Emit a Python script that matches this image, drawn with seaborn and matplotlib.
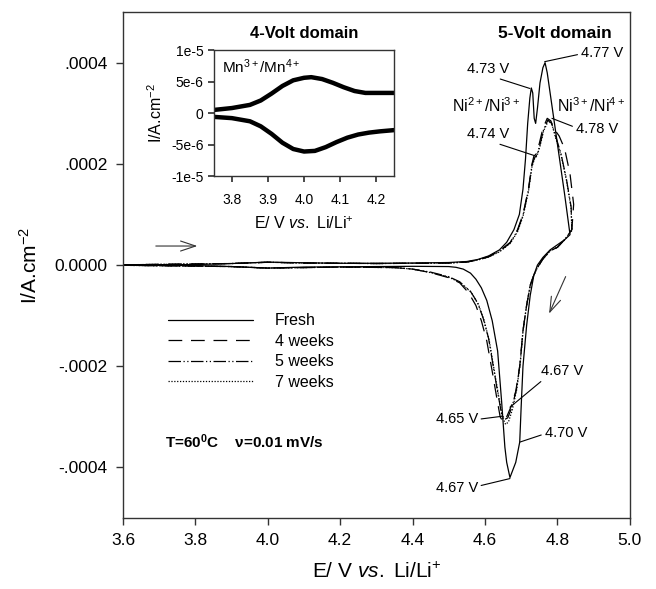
import matplotlib
matplotlib.use("Agg")
import matplotlib.pyplot as plt
import seaborn as sns
import pandas as pd

# ---------------- data ----------------
fresh_E = [3.60, 3.80, 3.90, 4.00, 4.10, 4.20, 4.30, 4.40, 4.50, 4.55, 4.58, 4.61, 4.64, 4.66,
           4.68, 4.695, 4.705, 4.712, 4.718, 4.724, 4.728, 4.732, 4.736, 4.740, 4.745, 4.752,
           4.760, 4.766, 4.772, 4.80, 4.82, 4.835,
           4.82, 4.80, 4.78, 4.76, 4.745, 4.735, 4.725, 4.715, 4.705, 4.700, 4.696, 4.685,
           4.669, 4.660, 4.655, 4.646, 4.635, 4.620, 4.605, 4.59, 4.575, 4.56, 4.54, 4.52,
           4.50, 4.40, 4.30, 4.20, 4.10, 4.00, 3.90, 3.80, 3.60]
fresh_I = [0.5e-6, 1e-6, 3e-6, 5.8e-6, 4.5e-6, 3.5e-6, 3.5e-6, 4e-6, 5e-6, 7e-6, 1.1e-5, 1.8e-5,
           3.0e-5, 4.5e-5, 7.0e-5, 1.0e-4, 1.5e-4, 2.1e-4, 2.8e-4, 3.3e-4, 3.5e-4, 3.4e-4,
           2.9e-4, 2.8e-4, 3.1e-4, 3.6e-4, 3.9e-4, 4.0e-4, 3.8e-4, 2.4e-4, 1.4e-4, 6e-5,
           5e-5, 4e-5, 3e-5, 1.5e-5, 0.0, -2e-5, -6e-5, -1.2e-4, -2.0e-4, -2.8e-4, -3.5e-4,
           -3.9e-4, -4.2e-4, -3.9e-4, -3.6e-4, -2.7e-4, -1.7e-4, -1.1e-4, -7e-5, -4.5e-5,
           -2.8e-5, -1.6e-5, -8e-6, -4.5e-6,
           -3e-6, -2.5e-6, -3e-6, -3.5e-6, -4e-6, -6e-6, -3e-6, -1e-6, -0.5e-6]

w4_E = [3.60, 3.90, 4.00, 4.10, 4.30, 4.50, 4.55, 4.58, 4.61, 4.64, 4.67, 4.69, 4.705, 4.72,
        4.73, 4.735, 4.742, 4.75, 4.76, 4.772, 4.782, 4.79, 4.805, 4.82, 4.835, 4.845, 4.84,
        4.82, 4.80, 4.78, 4.76, 4.745, 4.735, 4.725, 4.715, 4.705, 4.696, 4.685, 4.672,
        4.660, 4.650, 4.642, 4.632, 4.620, 4.605, 4.59, 4.575, 4.555, 4.53, 4.50, 4.45,
        4.40, 4.35, 4.20, 4.00, 3.90, 3.60]
w4_I = [0.5e-6, 3e-6, 5.5e-6, 4e-6, 3e-6, 4e-6, 6e-6, 1.0e-5, 1.7e-5, 2.8e-5, 4.5e-5, 7e-5,
        1.0e-4, 1.5e-4, 2.0e-4, 2.15e-4, 2.2e-4, 2.4e-4, 2.7e-4, 2.9e-4, 2.85e-4, 2.7e-4,
        2.55e-4, 2.3e-4, 1.8e-4, 1.2e-4, 7e-5,
        5e-5, 3.5e-5, 2.8e-5, 1.2e-5, -5e-6, -2e-5, -4e-5, -8e-5, -1.3e-4, -2.0e-4,
        -2.5e-4, -2.8e-4, -3.0e-4, -3.1e-4, -3.0e-4, -2.6e-4, -2.1e-4, -1.5e-4, -1.1e-4,
        -8e-5, -5.5e-5, -3.5e-5, -2.5e-5, -1.5e-5, -8e-6, -5e-6, -4e-6, -6e-6, -3e-6, -0.5e-6]

w5_E = [3.60, 3.90, 4.00, 4.10, 4.30, 4.50, 4.55, 4.58, 4.61, 4.64, 4.67, 4.69, 4.705, 4.72,
        4.73, 4.737, 4.744, 4.752, 4.762, 4.774, 4.784, 4.795, 4.81, 4.825, 4.838, 4.84,
        4.82, 4.80, 4.78, 4.76, 4.745, 4.735, 4.725, 4.715, 4.705, 4.697, 4.687, 4.675,
        4.663, 4.655, 4.646, 4.636, 4.624, 4.61, 4.595, 4.58, 4.56, 4.53, 4.50, 4.45,
        4.40, 4.35, 4.20, 4.00, 3.90, 3.60]
w5_I = [0.5e-6, 3e-6, 5.5e-6, 4e-6, 3e-6, 4e-6, 6e-6, 1.0e-5, 1.6e-5, 2.7e-5, 4.4e-5, 6.8e-5,
        9.8e-5, 1.48e-4, 1.98e-4, 2.12e-4, 2.18e-4, 2.38e-4, 2.68e-4, 2.87e-4, 2.8e-4,
        2.55e-4, 2.2e-4, 1.7e-4, 1.15e-4, 7e-5,
        5e-5, 3.5e-5, 2.8e-5, 1.2e-5, -5e-6, -2e-5, -4e-5, -8e-5, -1.3e-4, -1.95e-4,
        -2.45e-4, -2.8e-4, -3.02e-4, -3.05e-4, -2.95e-4, -2.55e-4, -2.05e-4, -1.45e-4,
        -1.05e-4, -7.5e-5, -5.2e-5, -3.3e-5, -2.3e-5, -1.4e-5, -8e-6, -5e-6, -4e-6,
        -6e-6, -3e-6, -0.5e-6]

w7_E = [3.60, 3.90, 4.00, 4.10, 4.30, 4.50, 4.55, 4.58, 4.61, 4.64, 4.67, 4.69, 4.705, 4.72,
        4.73, 4.737, 4.744, 4.752, 4.762, 4.775, 4.785, 4.795, 4.81, 4.825, 4.838, 4.84,
        4.82, 4.80, 4.78, 4.76, 4.745, 4.735, 4.725, 4.715, 4.705, 4.698, 4.688, 4.676,
        4.665, 4.657, 4.648, 4.638, 4.626, 4.612, 4.597, 4.582, 4.562, 4.53, 4.50, 4.45,
        4.40, 4.35, 4.20, 4.00, 3.90, 3.60]
w7_I = [0.5e-6, 3e-6, 5.5e-6, 4e-6, 3e-6, 4e-6, 6e-6, 1.0e-5, 1.6e-5, 2.6e-5, 4.3e-5, 6.6e-5,
        9.6e-5, 1.45e-4, 1.95e-4, 2.1e-4, 2.16e-4, 2.35e-4, 2.65e-4, 2.85e-4, 2.78e-4,
        2.52e-4, 2.18e-4, 1.68e-4, 1.12e-4, 6.8e-5,
        5e-5, 3.5e-5, 2.8e-5, 1.2e-5, -5e-6, -2e-5, -4e-5, -8e-5, -1.3e-4, -1.9e-4,
        -2.45e-4, -2.85e-4, -3.1e-4, -3.15e-4, -3.0e-4, -2.6e-4, -2.1e-4, -1.5e-4,
        -1.08e-4, -7.8e-5, -5.4e-5, -3.4e-5, -2.4e-5, -1.5e-5, -8e-6, -5e-6, -4e-6,
        -6e-6, -3e-6, -0.5e-6]

series_names = ["Fresh", "4 weeks", "5 weeks", "7 weeks"]

inset_ox_E = [3.75, 3.80, 3.85, 3.88, 3.91, 3.94, 3.97, 4.00, 4.02, 4.05, 4.08, 4.11, 4.14, 4.17, 4.20, 4.25]
inset_ox_I = [0.5e-6, 0.8e-6, 1.3e-6, 2.0e-6, 3.1e-6, 4.3e-6, 5.2e-6, 5.6e-6, 5.7e-6, 5.4e-6, 4.8e-6, 4.1e-6, 3.5e-6, 3.2e-6, 3.2e-6, 3.2e-6]
inset_red_E = [3.75, 3.80, 3.85, 3.88, 3.91, 3.94, 3.97, 4.00, 4.03, 4.06, 4.09, 4.12, 4.15, 4.18, 4.21, 4.25]
inset_red_I = [-0.6e-6, -0.8e-6, -1.3e-6, -2.1e-6, -3.3e-6, -4.7e-6, -5.7e-6, -6.1e-6, -6.0e-6, -5.4e-6, -4.6e-6, -3.9e-6, -3.4e-6, -3.1e-6, -2.9e-6, -2.7e-6]

main_xticks = [3.6, 3.8, 4.0, 4.2, 4.4, 4.6, 4.8, 5.0]
main_xticklabels = ["3.6", "3.8", "4.0", "4.2", "4.4", "4.6", "4.8", "5.0"]
main_yticks = [0.0004, 0.0002, 0.0, -0.0002, -0.0004]
main_yticklabels = [".0004", ".0002", "0.0000", "-.0002", "-.0004"]
inset_xticks = [3.8, 3.9, 4.0, 4.1, 4.2]
inset_xticklabels = ["3.8", "3.9", "4.0", "4.1", "4.2"]
inset_yticks = [1e-5, 5e-6, 0.0, -5e-6, -1e-5]
inset_yticklabels = ["1e-5", "5e-6", "0", "-5e-6", "-1e-5"]

# peak annotations: text, text position, target point
annotations = [
    ("4.73 V", (4.608, 0.000388), (4.724, 0.000349), "center", (0.55, 0.0)),
    ("4.77 V", (4.923, 0.000420), (4.765, 0.000402), "center", (0.0, 0.4)),
    ("4.74 V", (4.608, 0.000259), (4.738, 0.000216), "center", (0.55, 0.0)),
    ("4.78 V", (4.909, 0.000269), (4.785, 0.000290), "center", (0.0, 0.6)),
    ("4.67 V", (4.812, -0.000210), (4.669, -0.000281), "center", (0.1, 0.0)),
    ("4.65 V", (4.522, -0.000305), (4.646, -0.000299), "center", (1.0, 0.5)),
    ("4.70 V", (4.823, -0.000331), (4.696, -0.000350), "center", (0.0, 0.4)),
    ("4.67 V", (4.522, -0.000440), (4.669, -0.000422), "center", (1.0, 0.6)),
]

# ---------------- style ----------------
sns.set_theme(style="ticks")
plt.rcParams["font.family"] = ["Liberation Sans", "DejaVu Sans"]
plt.rcParams["mathtext.fontset"] = "custom"
plt.rcParams["mathtext.rm"] = "Liberation Sans"
plt.rcParams["mathtext.it"] = "Liberation Sans:italic"
plt.rcParams["mathtext.bf"] = "Liberation Sans:bold"
plt.rcParams["axes.edgecolor"] = "#333333"
plt.rcParams["axes.linewidth"] = 1.0
plt.rcParams["text.color"] = "black"
plt.rcParams["axes.labelcolor"] = "black"
plt.rcParams["xtick.labelcolor"] = "black"
plt.rcParams["ytick.labelcolor"] = "black"

fig = plt.figure(figsize=(6.56, 5.89), dpi=100)
ax = fig.add_axes([0.1875, 0.1205, 0.7725, 0.859])

styles = {
    "Fresh": "-",
    "4 weeks": (0, (11, 7)),
    "5 weeks": (0, (10, 2, 1, 2, 1, 2)),
    "7 weeks": (0, (1, 1.3)),
}
data = {"Fresh": (fresh_E, fresh_I), "4 weeks": (w4_E, w4_I),
        "5 weeks": (w5_E, w5_I), "7 weeks": (w7_E, w7_I)}

handles = []
for name in series_names:
    E, I = data[name]
    df = pd.DataFrame({"E": E, "I": I})
    sns.lineplot(data=df, x="E", y="I", sort=False, estimator=None, ax=ax,
                 color="black", linewidth=0.9, linestyle=styles[name], label=name)
    handles.append(ax.lines[-1])

ax.set_xlim(3.6, 5.0)
ax.set_ylim(-0.0005, 0.0005)
ax.set_xticks(main_xticks)
ax.set_xticklabels(main_xticklabels)
ax.set_yticks(main_yticks)
ax.set_yticklabels(main_yticklabels)
ax.tick_params(axis="both", direction="out", length=5, width=1, labelsize=12.5, color="#333333", pad=6)
ax.set_xlabel("E/ V $\\mathit{vs.}$ Li/Li$^{+}$", fontsize=15, labelpad=10)
ax.set_ylabel("I/A.cm$^{-2}$", fontsize=15, labelpad=10)
for s in ax.spines.values():
    s.set_visible(True)

leg = ax.legend(handles=handles, labels=series_names, loc="upper left",
                bbox_to_anchor=(0.089, 0.405), frameon=False, fontsize=11.5,
                handlelength=5.3, handletextpad=1.4, labelspacing=0.35,
                borderpad=0, borderaxespad=0)

for txt, tpos, tgt, ha, rel in annotations:
    ax.annotate(txt, xy=tgt, xytext=tpos, ha=ha, va="center", fontsize=10.5,
                arrowprops=dict(arrowstyle="-", color="black", lw=0.8,
                                shrinkA=0, shrinkB=0, relpos=rel))

ax.text(4.602, 0.000315, "Ni$^{2+}$/Ni$^{3+}$", ha="center", va="center", fontsize=11.5)
ax.text(4.892, 0.000315, "Ni$^{3+}$/Ni$^{4+}$", ha="center", va="center", fontsize=11.5)
ax.text(4.793, 0.000457, "5-Volt domain", ha="center", va="center", fontsize=12.5, fontweight="bold")
ax.text(3.716, -0.00035, "T=60$^{\\mathbf{0}}$C    ν=0.01 mV/s", ha="left", va="center",
        fontsize=11, fontweight="bold")

ax.annotate("", xy=(3.813, 0.0000376), xytext=(3.683, 0.0000376),
            arrowprops=dict(arrowstyle="->,head_length=0.9,head_width=0.3", color="#333333", lw=0.8))
ax.annotate("", xy=(4.774, -0.000101), xytext=(4.826, -0.0000178),
            arrowprops=dict(arrowstyle="->,head_length=0.9,head_width=0.3", color="#333333", lw=0.8))

# ---------------- inset ----------------
axin = fig.add_axes([0.326, 0.701, 0.275, 0.214])
sns.lineplot(x=inset_ox_E, y=inset_ox_I, sort=False, estimator=None, ax=axin, color="black", linewidth=3.2)
sns.lineplot(x=inset_red_E, y=inset_red_I, sort=False, estimator=None, ax=axin, color="black", linewidth=3.2)
axin.set_xlim(3.75, 4.25)
axin.set_ylim(-1e-5, 1e-5)
axin.set_xticks(inset_xticks)
axin.set_xticklabels(inset_xticklabels)
axin.set_yticks(inset_yticks)
axin.set_yticklabels(inset_yticklabels)
axin.tick_params(axis="both", direction="out", length=4, labelsize=10, color="#333333")
axin.tick_params(axis="x", pad=8)
axin.set_xlabel("E/ V $\\mathit{vs.}$ Li/Li$^{+}$", fontsize=11.5, labelpad=6)
axin.set_ylabel("I/A.cm$^{-2}$", fontsize=11.5, labelpad=4)
axin.set_title("4-Volt domain", fontsize=12, fontweight="bold", pad=9)
axin.text(0.045, 0.87, "Mn$^{3+}$/Mn$^{4+}$", transform=axin.transAxes, ha="left", va="center", fontsize=11)
for s in axin.spines.values():
    s.set_visible(True)

fig.savefig("out.png", dpi=100)
